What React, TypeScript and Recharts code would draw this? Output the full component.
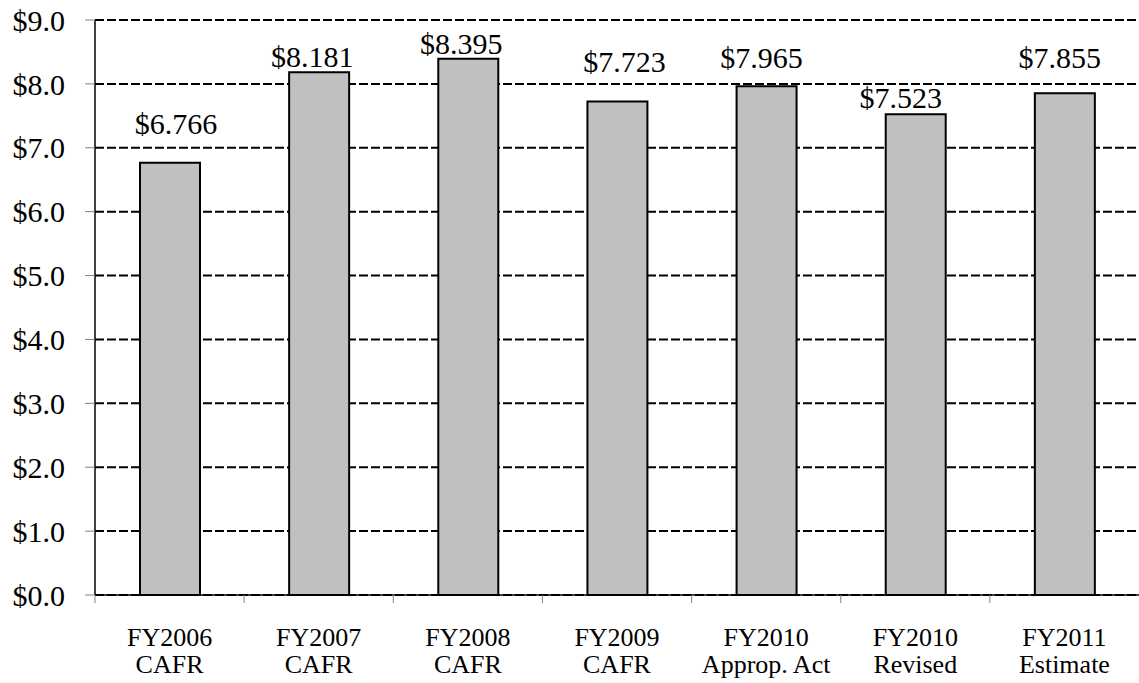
import React from 'react';
import { BarChart, Bar, CartesianGrid, XAxis, YAxis, LabelList } from 'recharts';

const years = ['FY2006', 'FY2007', 'FY2008', 'FY2009', 'FY2010', 'FY2010', 'FY2011'];
const sources = ['CAFR', 'CAFR', 'CAFR', 'CAFR', 'Approp. Act', 'Revised', 'Estimate'];
const values = [6.766, 8.181, 8.395, 7.723, 7.965, 7.523, 7.855];
const yTicks = [0, 1, 2, 3, 4, 5, 6, 7, 8, 9];

// hand-placed label nudges (dx from bar centre, gap above bar top)
const labelNudge = [
	[6, 29],
	[-7, 5],
	[-7, 5],
	[7, 30],
	[-5, 18],
	[-15, 6],
	[-5, 25],
];

const data = values.map((v, i) => ({
	name: years[i] + '|' + sources[i],
	value: v,
}));

const WIDTH = 1139;
const HEIGHT = 683;
const Y_AXIS_W = 95;
const BAND = (WIDTH - Y_AXIS_W) / values.length;
const FONT = '"Liberation Serif", "Times New Roman", serif';

const CategoryTick = (props: any) => {
	const { x, y, payload } = props;
	const [top, bottom] = String(payload.value).split('|');
	return (
		<g>
			<line x1={x - BAND / 2} x2={x - BAND / 2} y1={y} y2={y + 8} stroke='#808080' strokeWidth={1} />
			<text x={x} y={y} textAnchor='middle' fontFamily={FONT} fontSize={26} fill='#000'>
				<tspan x={x} y={y + 51}>{top}</tspan>
				<tspan x={x} y={y + 78}>{bottom}</tspan>
			</text>
		</g>
	);
};

const ValueLabel = (props: any) => {
	const { x, y, width, value, index } = props;
	const [dx, gap] = labelNudge[index] || [0, 10];
	return (
		<text
			x={x + width / 2 + dx}
			y={y - gap}
			textAnchor='middle'
			fontFamily={FONT}
			fontSize={30}
			fill='#000'
		>
			{'$' + Number(value).toFixed(3)}
		</text>
	);
};

export default function App() {
	return (
		<div style={{ position: 'absolute', left: 0, top: 0, background: '#fff' }}>
			<BarChart
				width={WIDTH}
				height={HEIGHT}
				data={data}
				margin={{ top: 20, right: 0, left: 0, bottom: 0 }}
			>
				<CartesianGrid
					vertical={false}
					stroke='#000'
					strokeWidth={2}
					strokeDasharray='9 3'
				/>
				<XAxis
					dataKey='name'
					height={88}
					interval={0}
					tickSize={0}
					tickMargin={0}
					tickLine={false}
					axisLine={{ stroke: '#000', strokeWidth: 1.5 }}
					tick={<CategoryTick />}
				/>
				<YAxis
					width={Y_AXIS_W}
					domain={[0, 9]}
					ticks={yTicks}
					interval={0}
					tickSize={10}
					tickMargin={20}
					tickFormatter={(v) => '$' + Number(v).toFixed(1)}
					axisLine={{ stroke: '#000', strokeWidth: 1.5 }}
					tickLine={{ stroke: '#808080' }}
					tick={{ fontFamily: FONT, fontSize: 30, fill: '#000' }}
				/>
				<Bar
					dataKey='value'
					fill='#C0C0C0'
					stroke='#000'
					strokeWidth={2}
					barSize={60}
					isAnimationActive={false}
				>
					<LabelList dataKey='value' content={<ValueLabel />} />
				</Bar>
			</BarChart>
		</div>
	);
}
